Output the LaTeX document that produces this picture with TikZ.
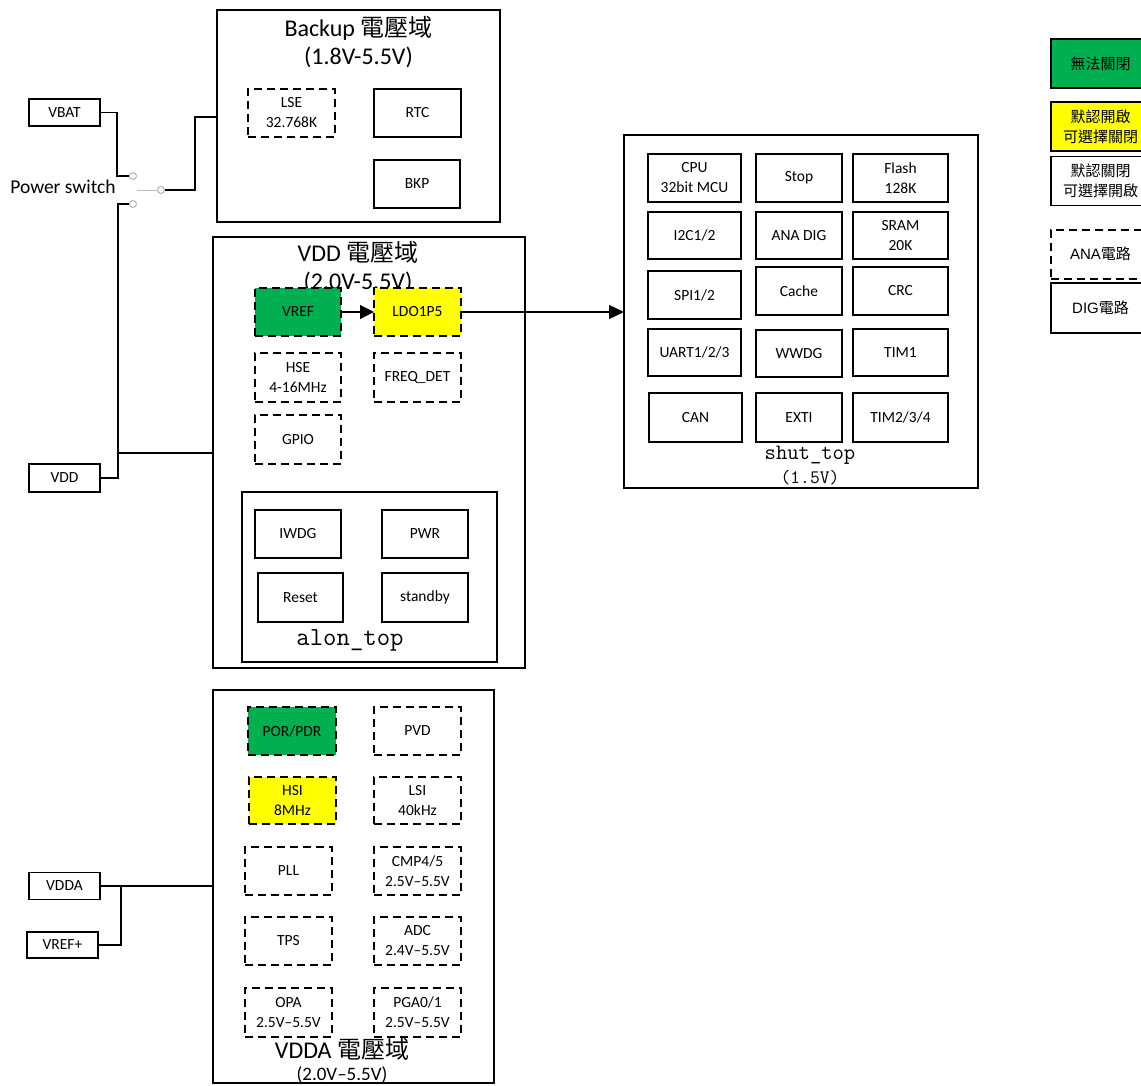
\documentclass[tikz,border=0pt]{standalone}
\usepackage{fontspec}
\setmainfont{Carlito}
\newfontfamily\cjk{Noto Sans CJK TC}
\newfontfamily\arialf{Liberation Sans}
\usetikzlibrary{arrows.meta}
\definecolor{ggreen}{HTML}{00B050}
\definecolor{yyellow}{HTML}{FFFF00}
\tikzset{
  sz/.style 2 args={minimum width=#1pt, minimum height=#2pt},
  blk/.style={draw, fill=white, line width=1.2pt, inner sep=0pt, outer sep=0pt, align=center,
    font=\fontsize{15.5}{20}\selectfont},
  anablk/.style={blk, line width=2pt, dash pattern=on 8pt off 5pt},
  domainbox/.style={draw, line width=1.2pt, inner sep=0pt, outer sep=0pt},
  dtitle/.style={font=\fontsize{24}{28}\selectfont, inner sep=0pt, align=center},
  subtitle/.style={font=\ttfamily\fontsize{22}{26}\selectfont, inner sep=0pt},
  wire/.style={line width=1.6pt},
  swcontact/.style={circle, draw=gray!60, line width=1pt, minimum size=7pt, inner sep=0pt, fill=white},
  legendbox/.style={draw, line width=1.2pt, inner sep=0pt, outer sep=0pt, align=center,
    minimum width=99pt, minimum height=49pt, font=\cjk\fontsize{15}{20}\selectfont},
  pinbox/.style={draw, line width=1.2pt, inner sep=0pt, outer sep=0pt, minimum width=71pt,
    minimum height=27pt, font=\fontsize{15.5}{17}\selectfont}
}
\begin{document}
\begin{tikzpicture}[x=1pt, y=-1pt]
\useasboundingbox (0,0) rectangle (1141,1085);
\clip (0,0) rectangle (1141,1085);
\fill[white] (0,0) rectangle (1141,1085);

% ---------- Backup domain ----------
\node[domainbox, sz={283}{212}] (backup) at (358.5,116) {};
\node[dtitle] (backupt) at (358.5,28) {Backup {\cjk 電壓域}};
\node[dtitle] (backupv) at (358.5,57) {(1.8V-5.5V)};
\node[anablk, sz={87}{48}] (lse) at (291.5,113) {LSE\\32.768K};
\node[blk, sz={87}{48}] (rtc) at (417.5,113) {RTC};
\node[blk, sz={86}{48}] (bkp) at (417,184) {BKP};

% ---------- VDD domain ----------
\node[domainbox, sz={312}{431}] (vddbox) at (369,452.5) {};
\node[dtitle] (vddt) at (358,252) {VDD {\cjk 電壓域}};
\node[dtitle] (vddv) at (358,282) {(2.0V-5.5V)};
\node[anablk, fill=ggreen, sz={86}{48}] (vref) at (298,312) {VREF};
\node[anablk, fill=yyellow, sz={87}{48}] (ldo) at (417.5,312) {LDO1P5};
\node[anablk, sz={86}{49}] (hse) at (298,377.5) {HSE\\4-16MHz};
\node[anablk, sz={87}{49}] (freq) at (417.5,377.5) {FREQ\_DET};
\node[anablk, sz={86}{49}] (gpio) at (298,439.5) {GPIO};
\node[domainbox, sz={255}{170}] (alon) at (369.5,577) {};
\node[blk, sz={86}{48}] (iwdg) at (298,534) {IWDG};
\node[blk, sz={86}{48}] (pwr) at (425,534) {PWR};
\node[blk, sz={85}{49}] (reset) at (300.5,597.5) {Reset};
\node[blk, sz={86}{49}] (stby) at (425,597.5) {standby};
\node[subtitle, font=\ttfamily\fontsize{26}{30}\selectfont] (alont) at (350,640) {alon\_top};

\draw[line width=1.2pt, -{Triangle[length=14pt, width=14pt]}] (vref.east) -- (ldo.west);

% ---------- shut_top ----------
\node[domainbox, sz={354}{353}] (shut) at (801,311.5) {};
\node[blk, sz={93}{48}] (cpu) at (694.5,178) {CPU\\32bit MCU};
\node[blk, sz={86}{48}] (stop) at (799,178) {Stop};
\node[blk, sz={95}{48}] (flash) at (900.5,178) {Flash\\128K};
\node[blk, sz={93}{47}] (i2c) at (694.5,235.5) {I2C1/2};
\node[blk, sz={86}{47}] (anadig) at (799,235.5) {ANA DIG};
\node[blk, sz={95}{47}] (sram) at (900.5,235.5) {SRAM\\20K};
\node[blk, sz={93}{48}] (spi) at (694.5,295) {SPI1/2};
\node[blk, sz={86}{48}] (cache) at (799,291) {Cache};
\node[blk, sz={95}{48}] (crc) at (900.5,291) {CRC};
\node[blk, sz={93}{47}] (uart) at (694.5,352.5) {UART1/2/3};
\node[blk, sz={86}{47}] (wwdg) at (799,353.5) {WWDG};
\node[blk, sz={95}{47}] (tim1) at (900.5,352.5) {TIM1};
\node[blk, sz={93}{49}] (can) at (695.5,417.5) {CAN};
\node[blk, sz={86}{49}] (exti) at (799,417.5) {EXTI};
\node[blk, sz={95}{49}] (tim2) at (900.5,417.5) {TIM2/3/4};
\node[subtitle] (shutt) at (810,455) {shut\_top};
\node[subtitle, font=\ttfamily\fontsize{19}{22}\selectfont] (shutv) at (810,478) {(1.5V)};

\draw[line width=1.2pt, -{Triangle[length=15pt, width=14pt]}] (ldo.east) -- (shut.west |- ldo.east);

% ---------- VDDA domain ----------
\node[domainbox, sz={281}{393}] (vddabox) at (353.5,886.5) {};
\node[anablk, fill=ggreen, sz={88}{48}] (por) at (292,731) {POR/PDR};
\node[anablk, sz={87}{48}] (pvd) at (417.5,731) {PVD};
\node[anablk, fill=yyellow, sz={87}{47}] (hsi) at (292.5,800.5) {HSI\\8MHz};
\node[anablk, sz={87}{47}] (lsi) at (417.5,800.5) {LSI\\40kHz};
\node[anablk, sz={87}{48}] (pll) at (288.5,871) {PLL};
\node[anablk, sz={87}{48}] (cmp) at (417.5,871) {CMP4/5\\2.5V–5.5V};
\node[anablk, sz={87}{48}] (tps) at (288.5,941) {TPS};
\node[anablk, sz={87}{48}] (adc) at (417.5,941) {ADC\\2.4V–5.5V};
\node[anablk, sz={87}{49}] (opa) at (288.5,1012.5) {OPA\\2.5V–5.5V};
\node[anablk, sz={87}{49}] (pga) at (417.5,1012.5) {PGA0/1\\2.5V–5.5V};
\node[dtitle] (vddat) at (342,1049) {VDDA {\cjk 電壓域}};
\node[dtitle, font=\fontsize{19}{22}\selectfont] (vddav) at (342,1075) {(2.0V–5.5V)};

% ---------- supply pins ----------
\node[pinbox] (vbat) at (64.5,112.5) {VBAT};
\node[pinbox, minimum height=28pt] (vdd) at (64.5,478) {VDD};
\node[pinbox] (vdda) at (64.5,886) {VDDA};
\node[pinbox, minimum height=26pt] (vrefp) at (62.5,945) {VREF+};

% power switch
\node[font=\fontsize{19.5}{22}\selectfont, inner sep=0pt] (pswt) at (63,187) {Power switch};
\node[swcontact] (c1) at (133,176) {};
\node[swcontact] (c2) at (161,190) {};
\node[swcontact] (c3) at (133,204) {};
\draw[gray!50, line width=0.8pt] (137,190) -- (c2.west);

\coordinate (j1) at (117,176);
\coordinate (j2) at (195,117);
\coordinate (j3) at (118,453);
\coordinate (j4) at (121,886);
\draw[wire] (vbat.east) -| (j1) -- (c1.west);
\draw[wire] (c2.east) -| (j2) -- (j2 -| backup.west);
\draw[wire] (vdd.east) -| (j3) |- (c3.west);
\draw[wire] (j3) -- (j3 -| vddbox.west);
\draw[wire] (vdda.east) -- (vdda.east -| vddabox.west);
\draw[wire] (vrefp.east) -| (j4);

% ---------- legend ----------
\node[legendbox, fill=ggreen] (lg1) at (1100.5,63.5) {無法關閉};
\node[legendbox, fill=yyellow] (lg2) at (1100.5,126.5) {默認開啟\\可選擇關閉};
\node[legendbox] (lg3) at (1100.5,181) {默認關閉\\可選擇開啟};
\node[legendbox, line width=2pt, dash pattern=on 8pt off 5pt] (lg4) at (1100.5,254) {{\arialf ANA}電路};
\node[legendbox, minimum height=50pt] (lg5) at (1100.5,308) {{\arialf DIG}電路};
\end{tikzpicture}
\end{document}
